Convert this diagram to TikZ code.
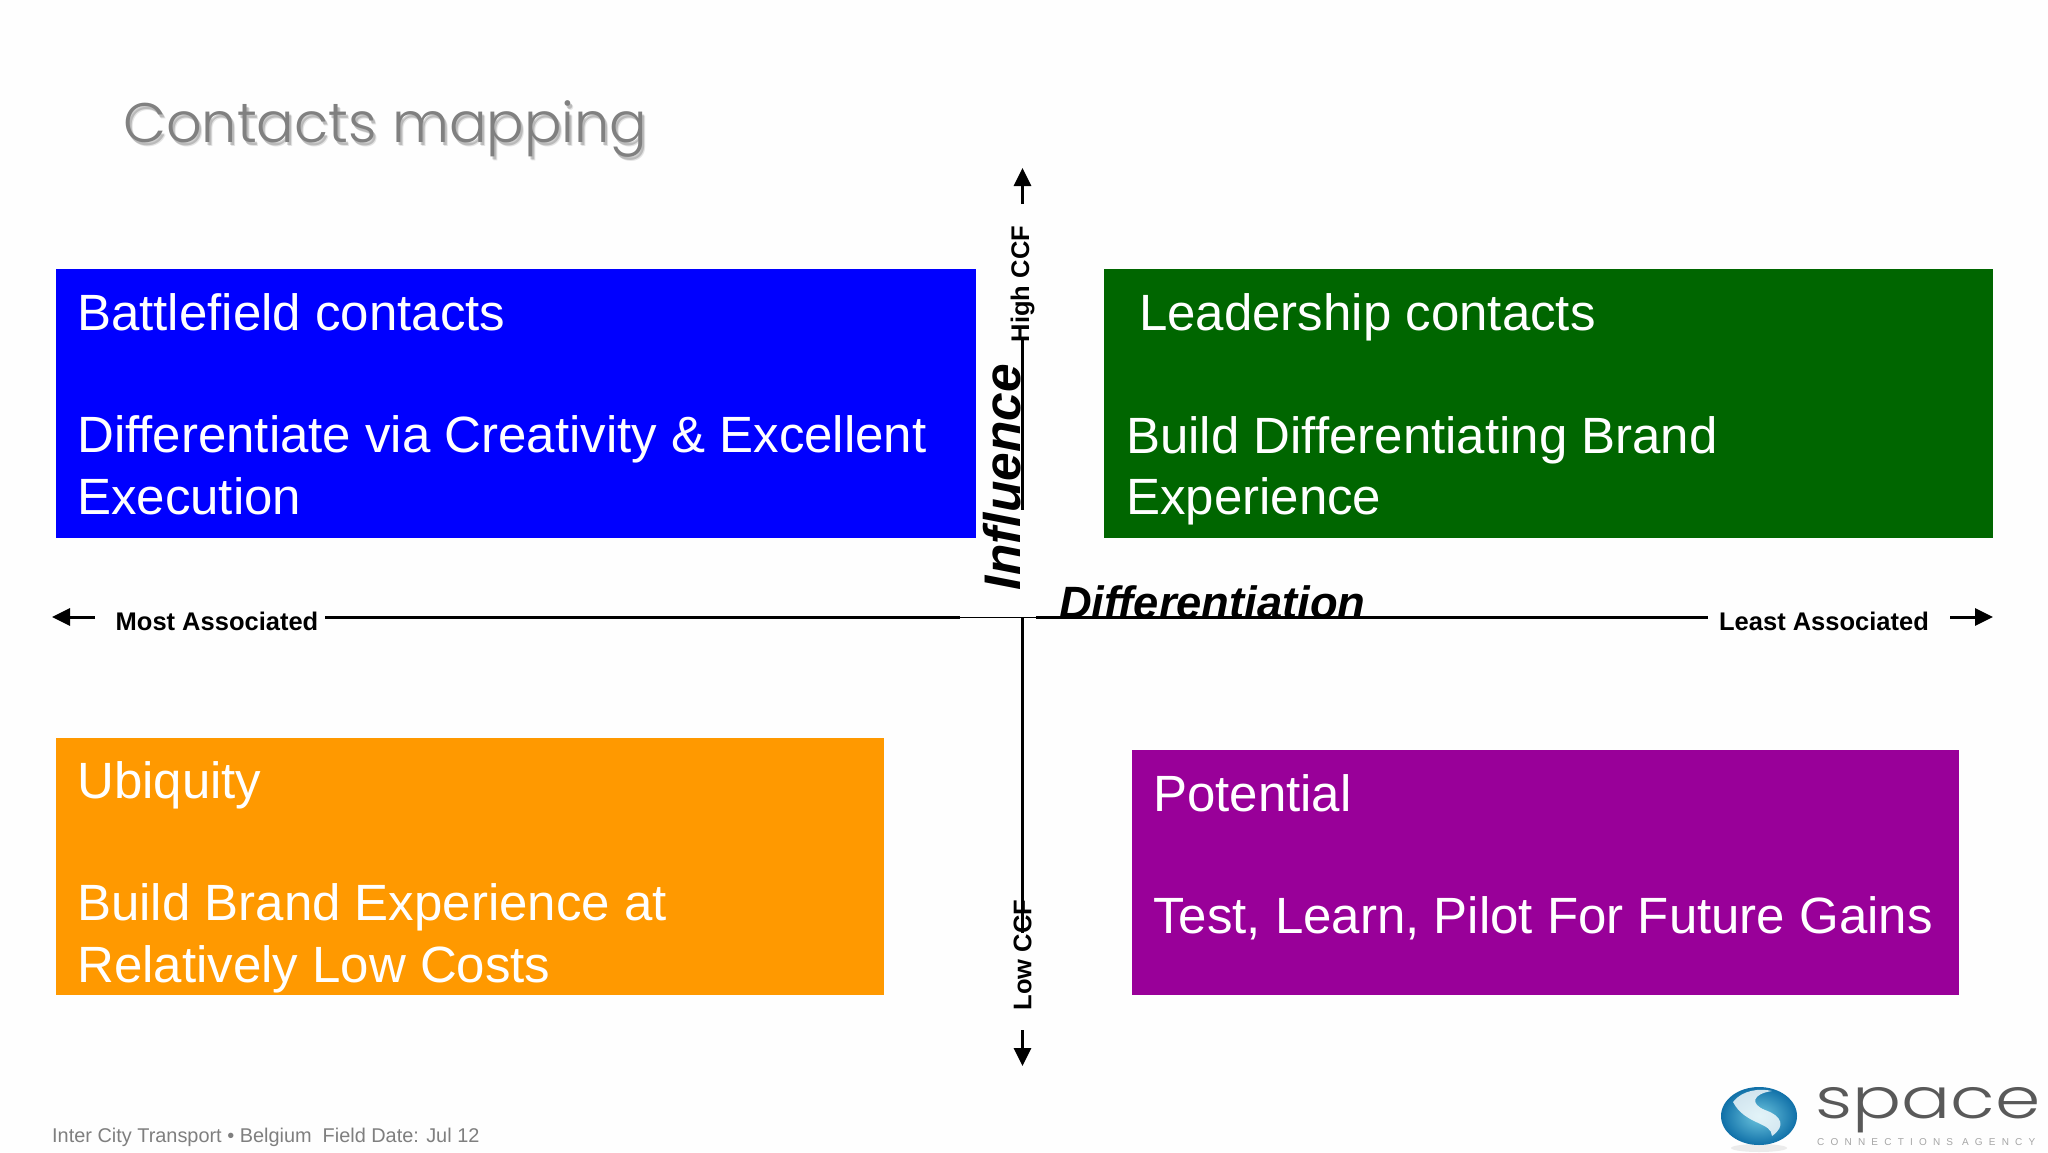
\documentclass[tikz,border=0pt]{standalone}
\usepackage{fontspec}
\setmainfont{Liberation Sans}
\newfontfamily\titlefont{Poppins Light}
\newfontfamily\logofont{Poppins Light}
\usetikzlibrary{arrows.meta,shadings}
\definecolor{bgc}{HTML}{FEFEFE}
\definecolor{blueq}{HTML}{0000FF}
\definecolor{greenq}{HTML}{006600}
\definecolor{orangeq}{HTML}{FF9900}
\definecolor{purpleq}{HTML}{990099}
\definecolor{titlec}{HTML}{808080}
\definecolor{footc}{HTML}{7F7F7F}
\definecolor{ballout}{HTML}{1070A8}
\definecolor{ballin}{HTML}{70C8E0}
\tikzset{
  x=1pt,y=-1pt,
  quad/.style={draw=none,inner sep=0pt,anchor=north west,minimum width=#1},
  quadtext/.style={text=white,inner sep=0pt,anchor=north west,align=left,
    font=\fontsize{51}{61.4}\selectfont},
  axislabel/.style={font=\fontsize{25.5}{30}\selectfont\bfseries,inner sep=0pt,text=black},
  axistitle/.style={font=\fontsize{45.3}{54}\selectfont\bfseries\itshape,inner sep=0pt,text=black},
  axisline/.style={draw=black,line width=3pt},
  axisarrow/.style={draw=black,line width=3pt,-{Triangle[length=18pt,width=17pt]}},
  titletext/.style={font=\fontsize{55.7}{66}\selectfont\titlefont,inner sep=0pt,anchor=base west},
}
\begin{document}
\begin{tikzpicture}
\useasboundingbox (0,0) rectangle (2048,1152);
\fill[bgc] (0,0) rectangle (2048,1152);

% quadrants
\node[quad=920pt,minimum height=269pt,fill=blueq] (bluebox) at (56,269) {};
\node[quad=889pt,minimum height=269pt,fill=greenq] (greenbox) at (1104,269) {};
\node[quad=828pt,minimum height=257pt,fill=orangeq] (orangebox) at (56,738) {};
\node[quad=827pt,minimum height=245pt,fill=purpleq] (purplebox) at (1132,750) {};

\node[quadtext] (bluetext) at (77,293) {Battlefield contacts\\[0pt]\strut\\Differentiate via Creativity \& Excellent\\Execution};
\node[quadtext] (greentop) at (1139,293) {Leadership contacts};
\node[quadtext] (greentext) at (1126,416) {Build Differentiating Brand\\Experience};
\node[quadtext] (orangetext) at (77,761) {Ubiquity\\[0pt]\strut\\Build Brand Experience at\\Relatively Low Costs};
\node[quadtext] (purpletext) at (1153,774) {Potential\\[0pt]\strut\\Test, Learn, Pilot For Future Gains};

% title with soft shadow
\node[titletext,text=black,opacity=.10] (titleshadowb) at (126,146) {Contacts mapping};
\node[titletext,text=black,opacity=.18] (titleshadowa) at (125,145) {Contacts mapping};
\node[titletext,text=titlec] (title) at (123,142) {Contacts mapping};

% axis labels
\node[axislabel,anchor=base] (most) at (217,630) {Most Associated};
\node[axislabel,anchor=base] (least) at (1824,630) {Least Associated};
\node[axislabel,rotate=90] (high) at (1022.5,284) {High CCF};
\node[axislabel,rotate=90] (low) at (1022.5,955) {Low CCF};
\node[axistitle,anchor=base west] (diff) at (1059,618) {Differentiation};
\node[font=\fontsize{51.5}{58}\selectfont\bfseries\itshape,inner sep=0pt,text=black,rotate=90] (infl) at (1002,477) {Influence};

% axis points
\coordinate (gapL) at (960,617);
\coordinate (gapR) at (1036,617);
\coordinate (centre) at (1022.5,617);
\coordinate (hEnd) at (1708,617);
\coordinate (hStart) at (325,617);
\coordinate (vTop) at (1022.5,338);
\coordinate (vTopEnd) at (1022.5,510);
\coordinate (vBot) at (1022.5,933);
\coordinate (upTail) at (1022.5,204);
\coordinate (upTip) at (1022.5,168);
\coordinate (dnTail) at (1022.5,1030);
\coordinate (dnTip) at (1022.5,1066);
\coordinate (lfTail) at (95,617);
\coordinate (lfTip) at (52,617);
\coordinate (rtTail) at (1950,617);
\coordinate (rtTip) at (1993,617);

\draw[axisline] (hStart) -- (gapL);
\draw[draw=black,line width=1pt] (gapL) -- (gapR);
\draw[axisline] (gapR) -- (hEnd);
\draw[axisline] (vTop) -- (vTopEnd);
\draw[axisline] (centre) -- (vBot);
\draw[axisarrow] (upTail) -- (upTip);
\draw[axisarrow] (dnTail) -- (dnTip);
\draw[axisarrow] (lfTail) -- (lfTip);
\draw[axisarrow] (rtTail) -- (rtTip);

% footer
\node[font=\fontsize{19.9}{24}\selectfont,text=footc,inner sep=0pt,anchor=base west] (footer) at (52,1142) {Inter City Transport • Belgium\ \ Field Date: Jul 12};

% logo
\fill[black!8] (1759,1148) ellipse [x radius=28,y radius=4];
\shade[inner color=ballin,outer color=ballout] (1759,1116) ellipse [x radius=38,y radius=29];
\fill[white,opacity=.8] (1733,1102) .. controls (1742,1090) and (1760,1088) .. (1772,1091)
  .. controls (1752,1094) and (1750,1104) .. (1765,1110)
  .. controls (1782,1116) and (1786,1126) .. (1772,1136)
  .. controls (1772,1122) and (1745,1125) .. (1733,1102) -- cycle;
\node[font=\fontsize{56}{60}\selectfont\logofont,text=black!65,inner sep=0pt,anchor=base west,xscale=1.3,transform shape] (logoword) at (1815,1118) {space};
\node[font=\fontsize{10}{12}\selectfont\addfontfeature{LetterSpace=62},text=black!35,inner sep=0pt,anchor=base west] (logosub) at (1817,1145) {CONNECTIONS AGENCY};
\end{tikzpicture}
\end{document}
